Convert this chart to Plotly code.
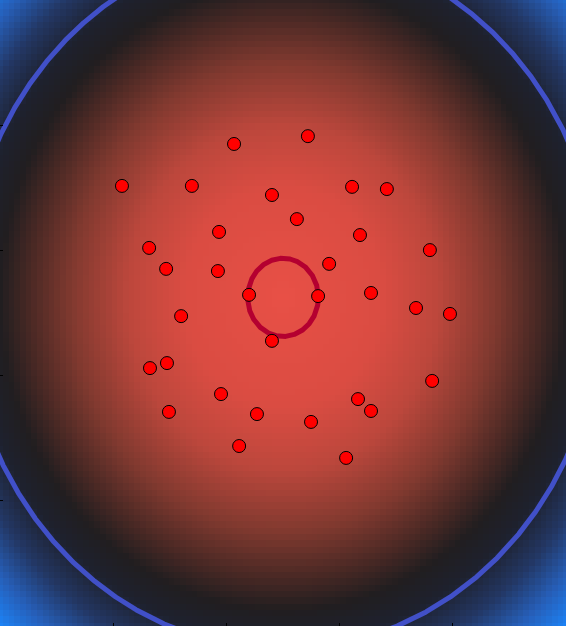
import numpy as np
import plotly.graph_objects as go

# scatter points (data units, axes span -1..1)
px_x = [234, 308, 122, 192, 272, 352, 387, 297, 219, 360, 149, 430, 166, 218, 329, 249, 318,
        371, 416, 450, 181, 272, 167, 150, 432, 221, 358, 371, 169, 257, 311, 239, 346]
px_y = [144, 136, 186, 186, 195, 187, 189, 219, 232, 235, 248, 250, 269, 271, 264, 295, 296,
        293, 308, 314, 316, 341, 363, 368, 381, 394, 399, 411, 412, 414, 422, 446, 458]
pts_x = [round((v - 283) / 283, 3) for v in px_x]
pts_y = [round((313 - v) / 313, 3) for v in px_y]

center_x, center_y = 0.0, 0.05
inner_r = 0.125
outer_r = 1.125
tick_vals = [-1, -0.6, -0.2, 0.2, 0.6, 1]

# background radial field
n = 100
gx = np.linspace(-1, 1, n)
gy = np.linspace(-1, 1, n)
GX, GY = np.meshgrid(gx, gy)
Z = np.sqrt((GX - center_x) ** 2 + (GY - center_y) ** 2)

zmax = 1.45
stops = [
    (0.0, "rgb(232,80,70)"),
    (0.35, "rgb(218,76,66)"),
    (0.55, "rgb(188,71,60)"),
    (0.75, "rgb(128,57,47)"),
    (0.9, "rgb(72,40,36)"),
    (1.0, "rgb(33,30,32)"),
    (1.1, "rgb(30,33,46)"),
    (1.22, "rgb(35,55,100)"),
    (1.34, "rgb(38,95,185)"),
    (1.45, "rgb(28,130,245)"),
]
colorscale = [[s / zmax, c] for s, c in stops]

theta = np.linspace(0, 2 * np.pi, 3601)
ring_x = center_x + outer_r * np.cos(theta)
ring_y = center_y + outer_r * np.sin(theta)
outside = (np.abs(ring_x) > 1.03) | (np.abs(ring_y) > 1.03)
ring_x[outside] = np.nan
ring_y[outside] = np.nan

fig = go.Figure()
fig.add_trace(go.Heatmap(x=gx, y=gy, z=Z, colorscale=colorscale, zmin=0, zmax=zmax,
                         showscale=False, hoverinfo="skip"))
fig.add_trace(go.Scatter(x=ring_x, y=ring_y, mode="lines", connectgaps=False,
                         line=dict(color="rgb(65,80,200)", width=5),
                         hoverinfo="skip", showlegend=False))
fig.add_trace(go.Scatter(x=center_x + inner_r * np.cos(theta), y=center_y + inner_r * np.sin(theta),
                         mode="lines", line=dict(color="rgb(180,0,48)", width=5),
                         hoverinfo="skip", showlegend=False))
fig.add_trace(go.Scatter(x=pts_x, y=pts_y, mode="markers",
                         marker=dict(size=13, color="#ff0000", line=dict(color="black", width=1)),
                         showlegend=False))

fig.update_xaxes(range=[-1, 1], showgrid=False, zeroline=False, showticklabels=False,
                 tickvals=tick_vals, ticks="inside", ticklen=3, tickcolor="black")
fig.update_yaxes(range=[-1, 1], showgrid=False, zeroline=False, showticklabels=False,
                 tickvals=tick_vals, ticks="inside", ticklen=3, tickcolor="black")
fig.update_layout(width=566, height=626, margin=dict(l=0, r=0, t=0, b=0),
                  paper_bgcolor="black", plot_bgcolor="black", showlegend=False)

fig.write_html("out.html", config={"displayModeBar": False},
               post_script="document.body.style.margin='0';document.body.style.overflow='hidden';")
